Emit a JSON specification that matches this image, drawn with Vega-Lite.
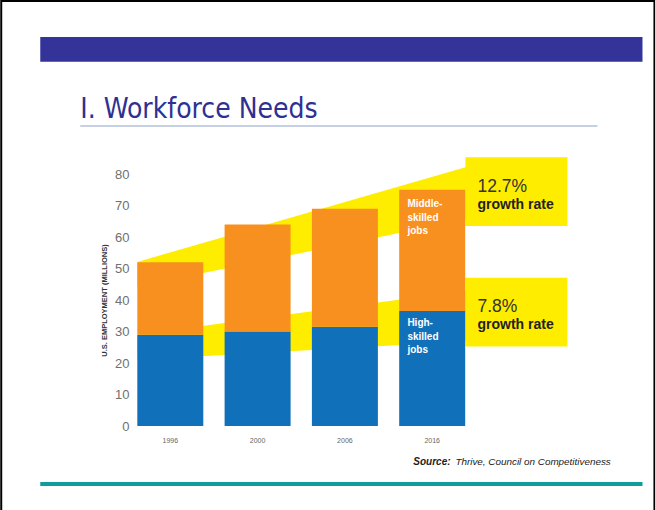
{
  "$schema": "https://vega.github.io/schema/vega-lite/v6.json",
  "width": 448,
  "height": 252,
  "autosize": {"type": "none"},
  "padding": {"left": 131, "top": 174, "right": 76, "bottom": 84},
  "background": "white",
  "config": {"view": {"stroke": null}, "font": "Liberation Sans"},
  "datasets": {
    "jobs": [
      {"year": "1996", "type": "High-skilled", "millions": 29},
      {"year": "1996", "type": "Middle-skilled", "millions": 23},
      {"year": "2000", "type": "High-skilled", "millions": 30},
      {"year": "2000", "type": "Middle-skilled", "millions": 34},
      {"year": "2006", "type": "High-skilled", "millions": 31.5},
      {"year": "2006", "type": "Middle-skilled", "millions": 37.5},
      {"year": "2016", "type": "High-skilled", "millions": 36.5},
      {"year": "2016", "type": "Middle-skilled", "millions": 38.5}
    ],
    "bands": [
      {"band": "middle", "u": 0.622, "top": 52.1, "bottom": 44.3},
      {"band": "middle", "u": 4.39, "top": 82.2, "bottom": 65.6},
      {"band": "high", "u": 0.622, "top": 29.0, "bottom": 21.0},
      {"band": "high", "u": 4.39, "top": 42.9, "bottom": 26.9}
    ],
    "boxes": [
      {"band": "middle", "u": 4.379, "u2": 5.548, "top": 85.3, "bottom": 63.5},
      {"band": "high", "u": 4.379, "u2": 5.548, "top": 47.1, "bottom": 25.2}
    ],
    "slide": [
      {"part": "banner", "u": -0.489, "u2": 6.407, "top": 123.5, "bottom": 115.6},
      {"part": "frame", "u": -0.936, "u2": 6.544, "top": 134.9, "bottom": -33}
    ],
    "lines": [
      {"part": "underline", "u": -0.031, "u2": 5.891, "y": 95.2},
      {"part": "footer", "u": -0.489, "u2": 6.407, "y": -18.4}
    ],
    "notes": [
      {"role": "title", "u": -0.031, "y": 97.8, "label": "I. Workforce Needs"},
      {"role": "rate", "u": 4.517, "y": 74.3, "label": "12.7%"},
      {"role": "rate", "u": 4.517, "y": 36.2, "label": "7.8%"},
      {"role": "ratenote", "u": 4.517, "y": 68.9, "label": "growth rate"},
      {"role": "ratenote", "u": 4.517, "y": 30.8, "label": "growth rate"},
      {"role": "series", "u": 3.715, "y": 69.5, "label": "Middle-\nskilled\njobs"},
      {"role": "series", "u": 3.715, "y": 31.7, "label": "High-\nskilled\njobs"},
      {"role": "sourcehead", "u": 3.783, "y": -12.4, "label": "Source:"},
      {"role": "source", "u": 4.265, "y": -12.4, "label": "Thrive, Council on Competitiveness"}
    ]
  },
  "layer": [
    {
      "data": {"name": "slide"},
      "transform": [{"filter": "datum.part === 'banner'"}],
      "mark": {"type": "rect", "fill": "#333399"},
      "encoding": {
        "x": {"field": "u", "type": "quantitative", "scale": {"domain": [0.55, 5.68], "nice": false, "zero": false}, "axis": null},
        "x2": {"field": "u2"},
        "y": {"field": "top", "type": "quantitative", "scale": {"domain": [0, 80]}, "axis": null},
        "y2": {"field": "bottom"}
      }
    },
    {
      "data": {"name": "slide"},
      "transform": [{"filter": "datum.part === 'frame'"}],
      "mark": {"type": "rect", "fill": null, "stroke": "#000000", "strokeWidth": 2},
      "encoding": {
        "x": {"field": "u", "type": "quantitative", "scale": {"domain": [0.55, 5.68], "nice": false, "zero": false}, "axis": null},
        "x2": {"field": "u2"},
        "y": {"field": "top", "type": "quantitative", "scale": {"domain": [0, 80]}, "axis": null},
        "y2": {"field": "bottom"}
      }
    },
    {
      "data": {"name": "lines"},
      "transform": [{"filter": "datum.part === 'underline'"}],
      "mark": {"type": "rule", "stroke": "#b3c1dc", "strokeWidth": 1.5},
      "encoding": {
        "x": {"field": "u", "type": "quantitative", "scale": {"domain": [0.55, 5.68], "nice": false, "zero": false}, "axis": null},
        "x2": {"field": "u2"},
        "y": {"field": "y", "type": "quantitative", "scale": {"domain": [0, 80]}, "axis": null}
      }
    },
    {
      "data": {"name": "lines"},
      "transform": [{"filter": "datum.part === 'footer'"}],
      "mark": {"type": "rule", "stroke": "#0e9d9a", "strokeWidth": 4},
      "encoding": {
        "x": {"field": "u", "type": "quantitative", "scale": {"domain": [0.55, 5.68], "nice": false, "zero": false}, "axis": null},
        "x2": {"field": "u2"},
        "y": {"field": "y", "type": "quantitative", "scale": {"domain": [0, 80]}, "axis": null}
      }
    },
    {
      "data": {"name": "bands"},
      "mark": {"type": "area", "fill": "#ffed00", "opacity": 1},
      "encoding": {
        "x": {"field": "u", "type": "quantitative", "scale": {"domain": [0.55, 5.68], "nice": false, "zero": false}, "axis": null},
        "y": {"field": "top", "type": "quantitative", "scale": {"domain": [0, 80]}, "axis": null},
        "y2": {"field": "bottom"},
        "detail": {"field": "band"}
      }
    },
    {
      "data": {"name": "boxes"},
      "mark": {"type": "rect", "fill": "#ffed00"},
      "encoding": {
        "x": {"field": "u", "type": "quantitative", "scale": {"domain": [0.55, 5.68], "nice": false, "zero": false}, "axis": null},
        "x2": {"field": "u2"},
        "y": {"field": "top", "type": "quantitative", "scale": {"domain": [0, 80]}, "axis": null},
        "y2": {"field": "bottom"}
      }
    },
    {
      "data": {"name": "jobs"},
      "mark": {"type": "bar"},
      "encoding": {
        "x": {
          "field": "year", "type": "ordinal",
          "scale": {"paddingInner": 0.244, "paddingOuter": 0.688, "align": 0.0525},
          "axis": {"title": null, "labelAngle": 0, "labelFontSize": 7, "labelColor": "#666666", "ticks": false, "domain": false, "labelPadding": 10}
        },
        "y": {
          "field": "millions", "type": "quantitative",
          "scale": {"domain": [0, 80]},
          "axis": {
            "values": [0, 10, 20, 30, 40, 50, 60, 70, 80],
            "grid": false, "ticks": false, "domain": false,
            "labelFontSize": 13, "labelColor": "#707070", "labelPadding": 2,
            "title": "U.S. EMPLOYMENT (MILLIONS)", "titleFontSize": 7.5, "titleFontWeight": "bold",
            "titleColor": "#333333", "titlePadding": 6
          }
        },
        "color": {
          "field": "type", "type": "nominal",
          "scale": {"domain": ["High-skilled", "Middle-skilled"], "range": ["#1170ba", "#f7901e"]},
          "legend": null
        },
        "order": {"field": "type", "sort": "ascending"}
      }
    },
    {
      "data": {"name": "notes"},
      "transform": [{"filter": "datum.role === 'title'"}],
      "mark": {"type": "text", "align": "left", "baseline": "alphabetic", "font": "DejaVu Sans Condensed", "fontSize": 28, "fill": "#2e3192"},
      "encoding": {
        "x": {"field": "u", "type": "quantitative", "scale": {"domain": [0.55, 5.68], "nice": false, "zero": false}, "axis": null},
        "y": {"field": "y", "type": "quantitative", "scale": {"domain": [0, 80]}, "axis": null},
        "text": {"field": "label"}
      }
    },
    {
      "data": {"name": "notes"},
      "transform": [{"filter": "datum.role === 'rate'"}],
      "mark": {"type": "text", "align": "left", "baseline": "alphabetic", "font": "Liberation Sans", "fontSize": 17.5, "fill": "#333333"},
      "encoding": {
        "x": {"field": "u", "type": "quantitative", "scale": {"domain": [0.55, 5.68], "nice": false, "zero": false}, "axis": null},
        "y": {"field": "y", "type": "quantitative", "scale": {"domain": [0, 80]}, "axis": null},
        "text": {"field": "label"}
      }
    },
    {
      "data": {"name": "notes"},
      "transform": [{"filter": "datum.role === 'ratenote'"}],
      "mark": {"type": "text", "align": "left", "baseline": "alphabetic", "font": "Liberation Sans", "fontSize": 14, "fontWeight": "bold", "fill": "#222222"},
      "encoding": {
        "x": {"field": "u", "type": "quantitative", "scale": {"domain": [0.55, 5.68], "nice": false, "zero": false}, "axis": null},
        "y": {"field": "y", "type": "quantitative", "scale": {"domain": [0, 80]}, "axis": null},
        "text": {"field": "label"}
      }
    },
    {
      "data": {"name": "notes"},
      "transform": [{"filter": "datum.role === 'series'"}],
      "mark": {"type": "text", "align": "left", "baseline": "alphabetic", "font": "Liberation Sans", "fontSize": 10, "fontWeight": "bold", "fill": "#ffffff", "lineBreak": "\n", "lineHeight": 13.5},
      "encoding": {
        "x": {"field": "u", "type": "quantitative", "scale": {"domain": [0.55, 5.68], "nice": false, "zero": false}, "axis": null},
        "y": {"field": "y", "type": "quantitative", "scale": {"domain": [0, 80]}, "axis": null},
        "text": {"field": "label"}
      }
    },
    {
      "data": {"name": "notes"},
      "transform": [{"filter": "datum.role === 'sourcehead'"}],
      "mark": {"type": "text", "align": "left", "baseline": "alphabetic", "font": "Liberation Sans", "fontSize": 10, "fontWeight": "bold", "fontStyle": "italic", "fill": "#222222"},
      "encoding": {
        "x": {"field": "u", "type": "quantitative", "scale": {"domain": [0.55, 5.68], "nice": false, "zero": false}, "axis": null},
        "y": {"field": "y", "type": "quantitative", "scale": {"domain": [0, 80]}, "axis": null},
        "text": {"field": "label"}
      }
    },
    {
      "data": {"name": "notes"},
      "transform": [{"filter": "datum.role === 'source'"}],
      "mark": {"type": "text", "align": "left", "baseline": "alphabetic", "font": "Liberation Sans", "fontSize": 9.9, "fontStyle": "italic", "fill": "#222222"},
      "encoding": {
        "x": {"field": "u", "type": "quantitative", "scale": {"domain": [0.55, 5.68], "nice": false, "zero": false}, "axis": null},
        "y": {"field": "y", "type": "quantitative", "scale": {"domain": [0, 80]}, "axis": null},
        "text": {"field": "label"}
      }
    }
  ],
  "resolve": {
    "scale": {"x": "independent", "y": "independent"},
    "axis": {"x": "independent", "y": "independent"}
  }
}
